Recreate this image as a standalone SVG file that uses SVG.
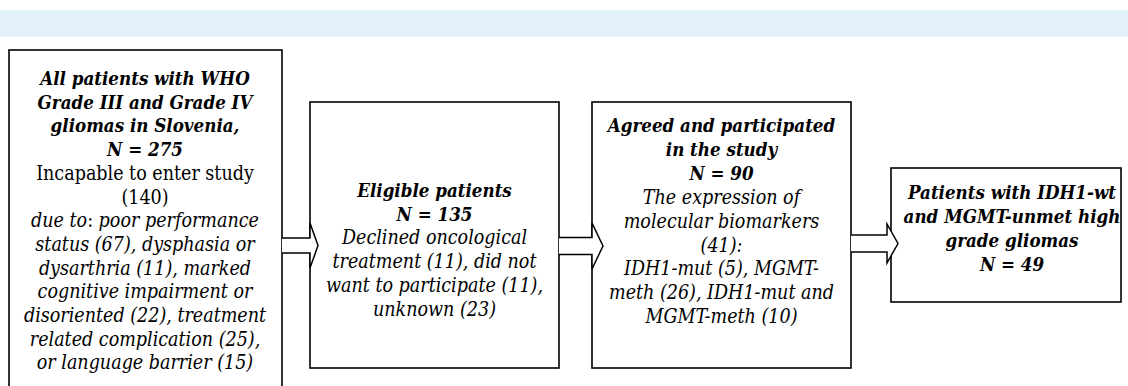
<svg xmlns="http://www.w3.org/2000/svg" width="1128" height="386" viewBox="0 0 1128 386">
<style>
.box{fill:#fff;stroke:#000;stroke-width:1.6}
.arr{fill:#fff;stroke:#000;stroke-width:1.5;stroke-linejoin:miter}
text{font-family:'DejaVu Serif Condensed','DejaVu Serif',serif;font-stretch:condensed;font-size:19.5px;fill:#000;text-anchor:middle}
.bi{font-weight:bold;font-style:italic;font-size:18.6px}
.i{font-style:italic}
</style>
<rect x="0" y="10" width="1128" height="27" fill="#e2f1f7"/>
<g id="n1">
<rect class="box" x="9" y="50" width="273" height="360"/>
<text x="145" y="85" class="bi">All patients with WHO</text>
<text x="145" y="108.7" class="bi">Grade III and Grade IV</text>
<text x="145" y="132.4" class="bi">gliomas in Slovenia,</text>
<text x="145" y="156.1" class="bi">N = 275</text>
<text x="145" y="179.8">Incapable to enter study</text>
<text x="145" y="203.5">(140)</text>
<text x="145" y="227.2"><tspan class="i">due to</tspan>: <tspan class="i">poor performance</tspan></text>
<text x="145" y="250.9" class="i">status (67), dysphasia or</text>
<text x="145" y="274.6" class="i">dysarthria (11), marked</text>
<text x="145" y="298.3" class="i">cognitive impairment or</text>
<text x="145" y="322" class="i">disoriented (22), treatment</text>
<text x="145" y="345.7" class="i">related complication (25),</text>
<text x="145" y="369.4" class="i">or language barrier (15)</text>
</g>
<g id="n2">
<rect class="box" x="310" y="102" width="249" height="266"/>
<text x="434.5" y="197" class="bi">Eligible patients</text>
<text x="434.5" y="220.7" class="bi">N = 135</text>
<text x="434.5" y="244.4" class="i">Declined oncological</text>
<text x="434.5" y="268.1" class="i">treatment (11), did not</text>
<text x="434.5" y="291.8" class="i">want to participate (11),</text>
<text x="434.5" y="315.5" class="i">unknown (23)</text>
</g>
<g id="n3">
<rect class="box" x="592" y="102" width="259" height="266"/>
<text x="721.5" y="132" class="bi">Agreed and participated</text>
<text x="721.5" y="155.9" class="bi">in the study</text>
<text x="721.5" y="179.8" class="bi">N = 90</text>
<text x="721.5" y="203.7" class="i">The expression of</text>
<text x="721.5" y="227.6" class="i">molecular biomarkers</text>
<text x="721.5" y="251.5" class="i">(41):</text>
<text x="721.5" y="275.4" class="i">IDH1-mut (5), MGMT-</text>
<text x="721.5" y="299.3" class="i">meth (26), IDH1-mut and</text>
<text x="721.5" y="323.2" class="i">MGMT-meth (10)</text>
</g>
<g id="n4">
<rect class="box" x="891" y="168" width="230" height="134"/>
<text x="1012" y="199" class="bi">Patients with IDH1-wt</text>
<text x="1012" y="223" class="bi">and MGMT-unmet high</text>
<text x="1012" y="247" class="bi">grade gliomas</text>
<text x="1012" y="271" class="bi">N = 49</text>
</g>
<g id="connectors">
<path class="arr" d="M282,238 H310 V223 L318,245.5 L310,268 V253 H282"/>
<path class="arr" d="M559,237.5 H592 V223 L603,246 L592,269 V254.5 H559"/>
<path class="arr" d="M851,235 H887 V224 L898,243.5 L887,263 V252 H851"/>
</g>
</svg>
